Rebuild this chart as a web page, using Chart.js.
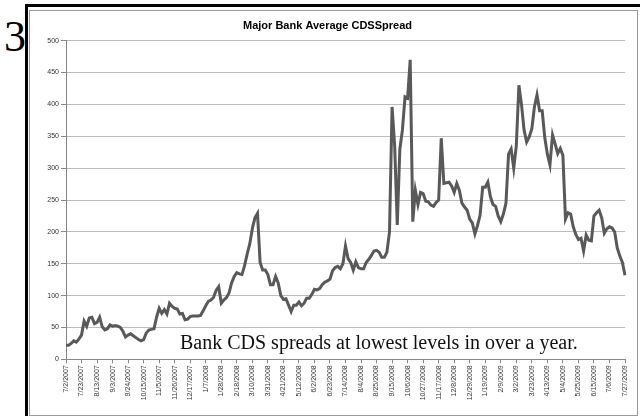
<!DOCTYPE html>
<html>
<head>
<meta charset="utf-8">
<title>Major Bank Average CDS Spread</title>
<script src="https://cdn.jsdelivr.net/npm/chart.js@4.4.1/dist/chart.umd.min.js"></script>
<style>
  html, body { margin: 0; padding: 0; background: #fff; }
  body { width: 640px; height: 416px; position: relative; overflow: hidden; }
  #slideNum { position: absolute; left: 4px; top: 15px; font: 44px "Liberation Serif", "Times New Roman", serif; line-height: 1; }
  #frame { position: absolute; left: 25px; top: 4px; width: 700px; height: 500px; border-left: 3px solid #000; border-top: 3px solid #000; }
  #box { position: absolute; left: 29px; top: 10px; width: 607px; height: 404px; border: 1px solid #999; background: #fff; }
  #wrap { position: absolute; left: 30px; top: 11px; width: 606px; height: 403px; }
  #note { position: absolute; left: 180px; top: 332px; font: 20px "Liberation Serif", "Times New Roman", serif; line-height: 1; white-space: nowrap; color: #111; }
</style>
</head>
<body>
<div id="slideNum">3</div>
<div id="frame"></div>
<div id="box"></div>
<div id="wrap"><canvas id="cds" width="606" height="403"></canvas></div>
<div id="note">Bank CDS spreads at lowest levels in over a year.</div>

<script>
// tick labels on the x axis (every 3 weeks)
const tickLabels = [
  '7/2/2007', '7/23/2007', '8/13/2007', '9/3/2007', '9/24/2007', '10/15/2007',
  '11/5/2007', '11/26/2007', '12/17/2007', '1/7/2008', '1/28/2008', '2/18/2008',
  '3/10/2008', '3/31/2008', '4/21/2008', '5/12/2008', '6/2/2008', '6/23/2008',
  '7/14/2008', '8/4/2008', '8/25/2008', '9/15/2008', '10/6/2008', '10/27/2008',
  '11/17/2008', '12/8/2008', '12/29/2008', '1/19/2009', '2/9/2009', '3/2/2009',
  '3/23/2009', '4/13/2009', '5/4/2009', '5/25/2009', '6/15/2009', '7/6/2009',
  '7/27/2009'
];
const pointsPerTick = 6;

// average spread (bp), 6 points between labels
const spread = [
  22, 22, 25, 29, 27, 32, 38, 60, 52, 65, 66, 56,
  58, 66, 51, 46, 48, 54, 52, 53, 52, 50, 44, 35,
  38, 40, 37, 34, 31, 29, 31, 41, 46, 47, 48, 66,
  80, 72, 78, 71, 88, 83, 80, 79, 71, 72, 62, 63,
  67, 68, 68, 68, 69, 76, 84, 91, 93, 97, 108, 114,
  88, 93, 97, 104, 120, 130, 136, 134, 133, 147, 165, 181,
  205, 222, 229, 152, 140, 140, 133, 117, 117, 130, 120, 100,
  94, 95, 85, 75, 85, 85, 90, 84, 88, 96, 96, 102,
  110, 109, 111, 117, 121, 123, 126, 139, 144, 146, 142, 150,
  178, 158, 152, 140, 153, 144, 142, 142, 152, 157, 163, 170,
  171, 168, 160, 160, 168, 200, 396, 335, 211, 330, 360, 412,
  410, 470, 216, 265, 243, 262, 260, 248, 247, 242, 240, 246,
  250, 347, 276, 277, 278, 272, 262, 276, 265, 245, 239, 234,
  220, 214, 197, 210, 226, 270, 270, 278, 255, 243, 240, 225,
  216, 228, 245, 322, 330, 300, 335, 430, 400, 360, 341, 349,
  362, 396, 415, 390, 390, 348, 322, 305, 352, 338, 323, 331,
  320, 220, 230, 228, 208, 196, 188, 190, 170, 195, 187, 186,
  225, 230, 234, 222, 198, 205, 208, 206, 200, 175, 162, 152,
  132
];

const categories = spread.map((v, i) => (i % pointsPerTick === 0 ? tickLabels[i / pointsPerTick] : ''));

const tickFont = { family: '"Liberation Sans", Arial, sans-serif', size: 7 };

new Chart(document.getElementById('cds'), {
  type: 'line',
  data: {
    labels: categories,
    datasets: [{
      label: 'Major Bank Average CDS Spread',
      data: spread,
      borderColor: '#595959',
      borderWidth: 3,
      pointRadius: 0,
      tension: 0,
      fill: false
    }]
  },
  options: {
    responsive: false,
    animation: false,
    devicePixelRatio: 1,
    layout: { padding: { left: 0, right: 11, top: 4, bottom: 0 } },
    plugins: {
      legend: { display: false },
      tooltip: { enabled: false },
      title: {
        display: true,
        text: 'Major Bank Average CDSSpread',
        color: '#000',
        font: { family: '"Liberation Sans", Arial, sans-serif', size: 11, weight: 'bold' },
        padding: { top: 4, bottom: 8.5 }
      }
    },
    scales: {
      x: {
        type: 'category',
        afterFit: scale => { scale.height = 54.7; },
        grid: { drawOnChartArea: false, drawTicks: true, tickLength: 4, tickColor: '#888' },
        border: { color: '#888' },
        ticks: {
          autoSkip: false,
          maxRotation: 90,
          minRotation: 90,
          padding: 2,
          color: '#333',
          font: tickFont,
          callback: function (val, idx) {
            return idx % pointsPerTick === 0 ? this.getLabelForValue(val) : null;
          }
        }
      },
      y: {
        min: 0,
        max: 500,
        afterFit: scale => { scale.width = 36; },
        grid: { color: '#bdbdbd', tickLength: 5, tickColor: '#888' },
        border: { color: '#888' },
        ticks: { stepSize: 50, padding: 2, color: '#333', font: tickFont }
      }
    }
  }
});
</script>
</body>
</html>
